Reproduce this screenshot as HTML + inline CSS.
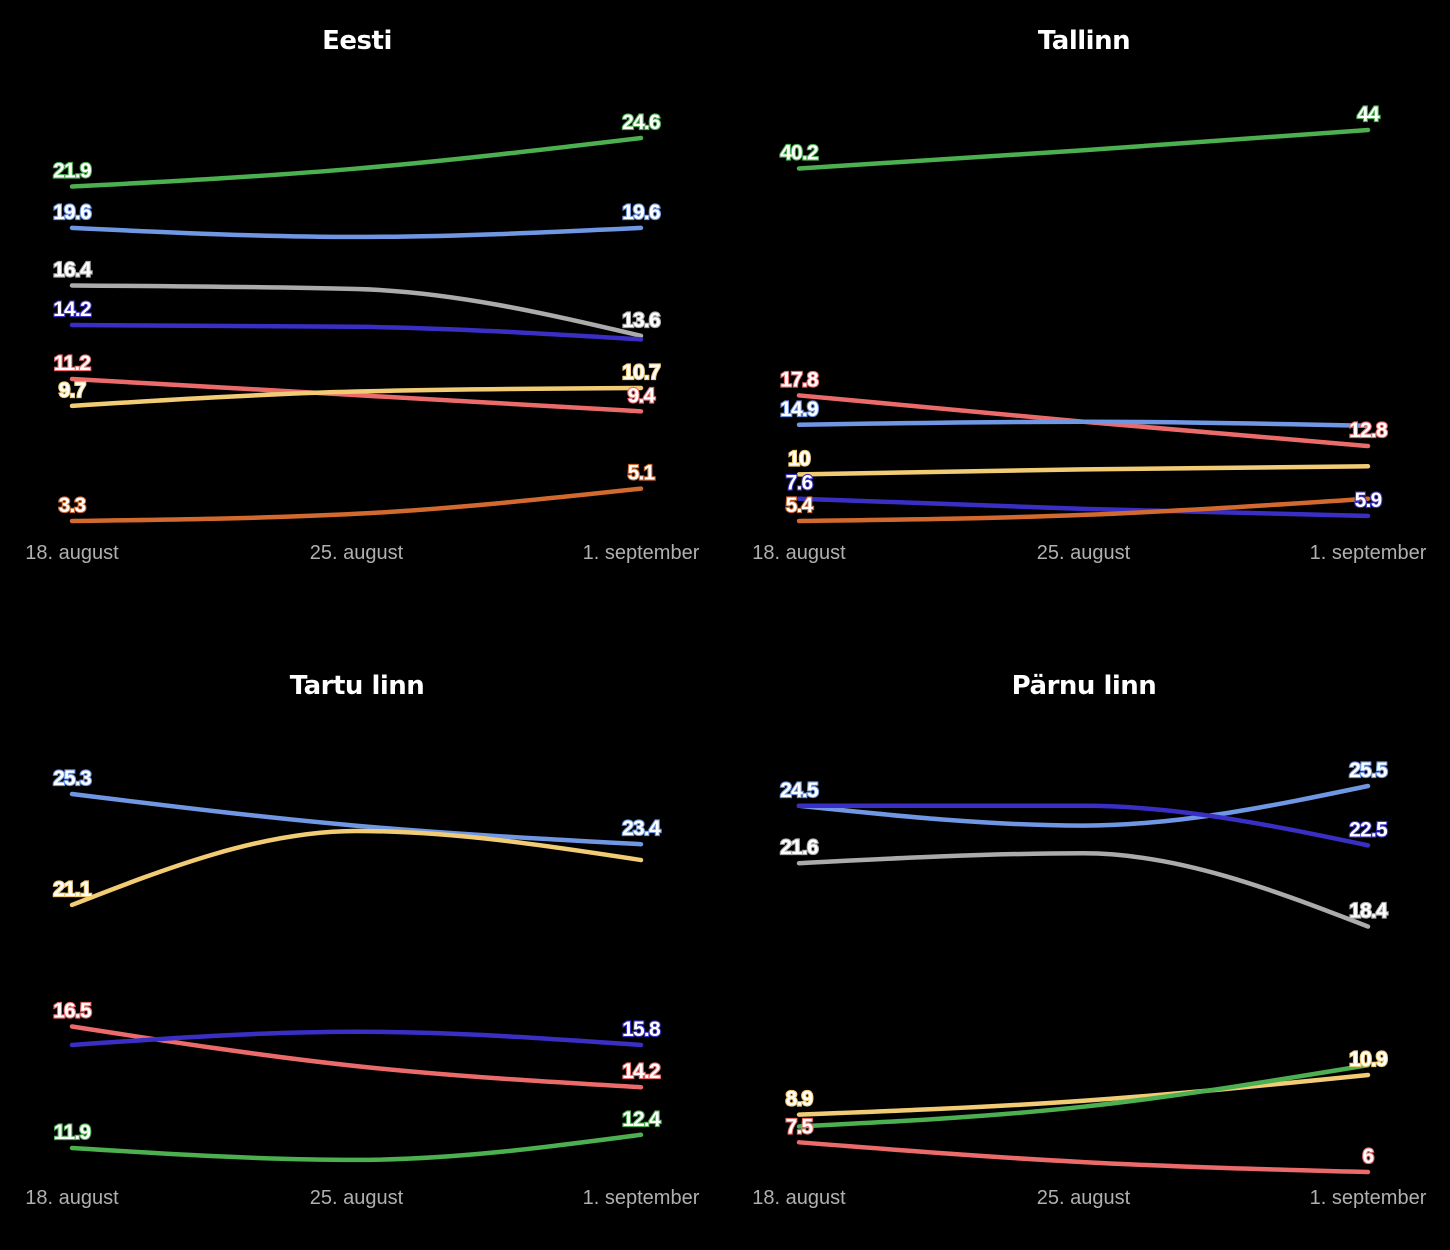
<!DOCTYPE html>
<html><head><meta charset="utf-8"><style>
html,body{margin:0;padding:0;background:#000;}
svg{display:block;}
.title{font-family:"DejaVu Sans","Liberation Sans",sans-serif;font-weight:bold;font-size:26px;fill:#fff;text-anchor:middle;letter-spacing:-0.5px;}
.xl{font-family:"Liberation Sans",sans-serif;font-size:20px;fill:#b0b0b0;text-anchor:middle;}
.lab{font-family:"Liberation Sans",sans-serif;font-weight:bold;font-size:21px;fill:#fff;text-anchor:middle;stroke-width:2.2px;paint-order:stroke;letter-spacing:-0.8px;}
</style></head><body>
<svg id="chart" width="1450" height="1250" xmlns="http://www.w3.org/2000/svg"></svg>
<script>
const dates = ["18. august", "25. august", "1. september"];
const panelTitles = ["Eesti", "Tallinn", "Tartu linn", "Pärnu linn"];
const colors = {green:"#4caf50", blue:"#6f97e3", gray:"#ababab", purple:"#3a2fc4", red:"#eb6b6b", yellow:"#f1cc74", orange:"#d2692f"};
const eestiGreen=[21.9,22.9,24.6], eestiBlue=[19.6,19.1,19.6], eestiGray=[16.4,16.2,13.6], eestiPurple=[14.2,14.1,13.4], eestiRed=[11.2,10.3,9.4], eestiYellow=[9.7,10.5,10.7], eestiOrange=[3.3,3.7,5.1];
const tallGreen=[40.2,42.0,44], tallRed=[17.8,15.2,12.8], tallBlue=[14.9,15.2,14.8], tallYellow=[10,10.5,10.8], tallPurple=[7.6,6.6,5.9], tallOrange=[5.4,6.0,7.6];
const tartuBlue=[25.3,24.1,23.4], tartuYellow=[21.1,23.9,22.8], tartuRed=[16.5,15.0,14.2], tartuPurple=[15.8,16.3,15.8], tartuGreen=[11.9,11.45,12.4];
const parnuBlue=[24.5,23.5,25.5], parnuPurple=[24.5,24.5,22.5], parnuGray=[21.6,22.1,18.4], parnuYellow=[8.9,9.6,10.9], parnuGreen=[8.3,9.3,11.4], parnuRed=[7.5,6.5,6];
const panels = [
 {series:[["green",eestiGreen,1,1],["blue",eestiBlue,1,1],["gray",eestiGray,1,1],["purple",eestiPurple,1,0],["red",eestiRed,1,1],["yellow",eestiYellow,1,1],["orange",eestiOrange,1,1]], ref:[3.3,24.6], refY:[521,138]},
 {series:[["green",tallGreen,1,1],["red",tallRed,1,1],["blue",tallBlue,1,0],["yellow",tallYellow,1,0],["purple",tallPurple,1,1],["orange",tallOrange,1,0]], ref:[5.4,44], refY:[521,130]},
 {series:[["blue",tartuBlue,1,1],["yellow",tartuYellow,1,0],["red",tartuRed,1,1],["purple",tartuPurple,0,1],["green",tartuGreen,1,1]], ref:[11.9,25.3], refY:[1148,794]},
 {series:[["blue",parnuBlue,1,1],["purple",parnuPurple,0,1],["gray",parnuGray,1,1],["yellow",parnuYellow,1,1],["green",parnuGreen,0,0],["red",parnuRed,1,1]], ref:[6,25.5], refY:[1172,786]}
];
const svg=document.getElementById('chart');
const NS="http://www.w3.org/2000/svg";
function mk(tag,attrs,parent){const e=document.createElementNS(NS,tag);for(const k in attrs)e.setAttribute(k,attrs[k]);parent.appendChild(e);return e;}
function monotonePath(pts){
 const n=pts.length,d=[],m=[];
 for(let i=0;i<n-1;i++)d.push((pts[i+1][1]-pts[i][1])/(pts[i+1][0]-pts[i][0]));
 for(let i=0;i<n;i++){
  if(i===0||i===n-1)m.push(0);
  else{ if(d[i-1]*d[i]<=0)m.push(0); else { const h0=pts[i][0]-pts[i-1][0],h1=pts[i+1][0]-pts[i][0]; const p=(d[i-1]*h1+d[i]*h0)/(h0+h1); m.push((Math.sign(d[i-1])+Math.sign(d[i]))*Math.min(Math.abs(d[i-1]),Math.abs(d[i]),0.5*Math.abs(p))); } }
 }
 m[0]=(3*d[0]-m[1])/2; const k=n-1; m[k]=(3*d[k-1]-m[k-1])/2;
 let s=`M${pts[0][0]},${pts[0][1]}`;
 for(let i=0;i<n-1;i++){const h=(pts[i+1][0]-pts[i][0])/3;
  s+=` C${pts[i][0]+h},${pts[i][1]+m[i]*h} ${pts[i+1][0]-h},${pts[i+1][1]-m[i+1]*h} ${pts[i+1][0]},${pts[i+1][1]}`;}
 return s;
}
panels.forEach((p,pi)=>{
 const col=pi%2,row=Math.floor(pi/2);
 const x0=72+col*727,x1=641+col*727,yOff=row*645;
 const g=mk('g',{},svg);
 
 
 const t=mk('text',{x:357+col*727,y:49+yOff,class:'title'},g);t.textContent=panelTitles[pi];
 
 
 const xs=i=>x0+(x1-x0)*i/(dates.length-1);
 const ys=v=>p.refY[0]+(v-p.ref[0])*(p.refY[1]-p.refY[0])/(p.ref[1]-p.ref[0]);
 dates.forEach((dt,i)=>{const e=mk('text',{x:xs(i),y:559+yOff,class:'xl'},g);e.textContent=dt;
  
  });
 p.series.forEach(([c,vals])=>{
  const pts=vals.map((v,i)=>[xs(i),ys(v)]);
  const path=mk('path',{d:monotonePath(pts),fill:'none',stroke:colors[c],'stroke-width':4.5,'stroke-linecap':'round'},g);
  
  
 });
 p.series.forEach(([c,vals,sl,el])=>{
  [[0,sl],[vals.length-1,el]].forEach(([i,show])=>{
   if(!show)return;
   const e=mk('text',{x:xs(i),y:ys(vals[i])-9,class:'lab',stroke:colors[c]},g);
   e.textContent=String(vals[i]);
   
   
  });
 });
});
</script>
</body></html>
